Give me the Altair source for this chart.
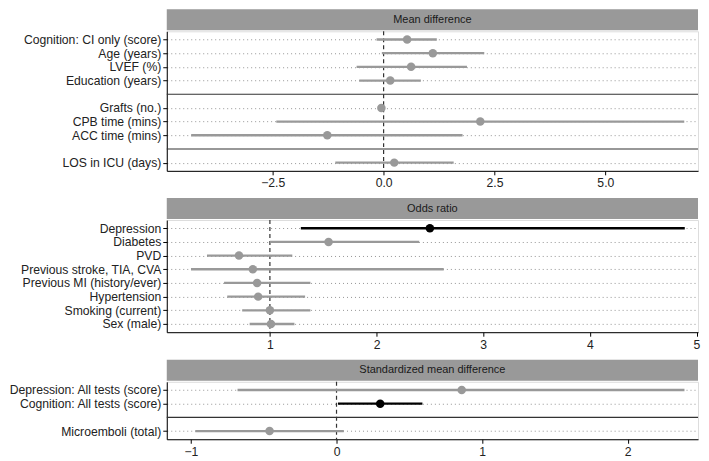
import json
import altair as alt
import pandas as pd

FONT = "Liberation Sans, Arial, Helvetica, sans-serif"
GRAY = "#999999"
STEP = 13.7
W = 532

# ---- Panel 1: Mean difference ----
title1 = "Mean difference"
labels1 = ["Cognition: CI only (score)", "Age (years)", "LVEF (%)", "Education (years)",
           "Grafts (no.)", "CPB time (mins)", "ACC time (mins)", "LOS in ICU (days)"]
pos1 = [1, 2, 3, 4, 6, 7, 8, 10]
est1 = [0.53, 1.11, 0.62, 0.15, -0.05, 2.18, -1.27, 0.24]
lo1 = [-0.16, -0.04, -0.61, -0.55, -0.13, -2.42, -4.34, -1.09]
hi1 = [1.20, 2.27, 1.88, 0.84, 0.03, 6.78, 1.78, 1.58]
sig1 = [False, False, False, False, False, False, False, False]
sep1 = [5, 9]
ticks1 = [-2.5, 0.0, 2.5, 5.0]

# ---- Panel 2: Odds ratio ----
title2 = "Odds ratio"
labels2 = ["Depression", "Diabetes", "PVD", "Previous stroke, TIA, CVA",
           "Previous MI (history/ever)", "Hypertension", "Smoking (current)", "Sex (male)"]
pos2 = [1, 2, 3, 4, 5, 6, 7, 8]
est2 = [2.50, 1.55, 0.71, 0.84, 0.88, 0.89, 1.00, 1.01]
lo2 = [1.29, 1.00, 0.41, 0.26, 0.57, 0.60, 0.74, 0.81]
hi2 = [4.89, 2.40, 1.21, 2.63, 1.38, 1.33, 1.38, 1.23]
sig2 = [True, False, False, False, False, False, False, False]
sep2 = []
ticks2 = [1, 2, 3, 4, 5]

# ---- Panel 3: Standardized mean difference ----
title3 = "Standardized mean difference"
labels3 = ["Depression: All tests (score)", "Cognition: All tests (score)", "Microemboli (total)"]
pos3 = [1, 2, 4]
est3 = [0.86, 0.30, -0.46]
lo3 = [-0.68, 0.01, -0.97]
hi3 = [2.39, 0.59, 0.05]
sig3 = [False, True, False]
sep3 = [3]
ticks3 = [-1, 0, 1, 2]


def panel(title, labels, pos, est, lo, hi, sig, seps, nmax, xdomain, xticks, xfmt, ref):
    df = pd.DataFrame(dict(label=labels, pos=pos, est=est, lo=lo, hi=hi,
                           sig=["yes" if s else "no" for s in sig]))
    H = (nmax + 0.2) * STEP
    arr = [""] * (nmax + 1)
    for l, p in zip(labels, pos):
        arr[p] = l
    label_expr = "[" + ",".join(json.dumps(s) for s in arr) + "][datum.value]"
    yscale = alt.Scale(domain=[0.4, nmax + 0.6], reverse=True, nice=False, zero=False)
    xscale = alt.Scale(domain=xdomain, nice=False, zero=False)
    yaxis = alt.Axis(values=pos, labelExpr=label_expr, grid=True, gridDash=[1, 3],
                     gridColor="#8a8a8a", gridWidth=0.9, domainColor="black", domainWidth=1,
                     tickColor="black", tickSize=4, labelFontSize=12.2, labelColor="#222222",
                     labelFont=FONT, labelPadding=2, minExtent=158, maxExtent=158, title=None)
    xaxis = alt.Axis(values=xticks, format=xfmt, grid=False, domainColor="black", domainWidth=1,
                     tickColor="black", tickSize=4, labelFontSize=12.2, labelColor="#222222",
                     labelFont=FONT, labelPadding=2, title=None)
    color = alt.Color("sig:N", scale=alt.Scale(domain=["no", "yes"], range=[GRAY, "black"]),
                      legend=None)

    tdf = pd.DataFrame({"t": [title]})
    strip = alt.Chart(tdf).mark_rect(color=GRAY).encode(
        x=alt.value(0), x2=alt.value(W), y=alt.value(-22), y2=alt.value(-1))
    stext = alt.Chart(tdf).mark_text(fontSize=11, color="#1a1a1a", font=FONT,
                                     baseline="middle", align="center").encode(
        x=alt.value(W / 2), y=alt.value(-11.5), text="t:N")

    layers = [strip, stext]
    if seps:
        sdf = pd.DataFrame({"sep": seps})
        layers.append(alt.Chart(sdf).mark_rule(color="#333333", strokeWidth=1.1).encode(
            y=alt.Y("sep:Q", scale=yscale, axis=yaxis)))
    rdf = pd.DataFrame({"ref": [ref]})
    layers.append(alt.Chart(rdf).mark_rule(color="#333333", strokeWidth=1.2,
                                           strokeDash=[4, 3]).encode(
        x=alt.X("ref:Q", scale=xscale, axis=xaxis)))
    base = alt.Chart(df)
    layers.append(base.mark_rule(strokeWidth=2.3).encode(
        x=alt.X("lo:Q", scale=xscale, axis=xaxis), x2="hi:Q",
        y=alt.Y("pos:Q", scale=yscale, axis=yaxis), color=color))
    layers.append(base.mark_point(filled=True, size=72, opacity=1).encode(
        x=alt.X("est:Q", scale=xscale, axis=xaxis),
        y=alt.Y("pos:Q", scale=yscale, axis=yaxis), color=color))
    return alt.layer(*layers).properties(width=W, height=H)


p1 = panel(title1, labels1, pos1, est1, lo1, hi1, sig1, sep1, 10,
           [-4.89, 7.09], ticks1, ".1f", 0)
p2 = panel(title2, labels2, pos2, est2, lo2, hi2, sig2, sep2, 8,
           [0.033, 5.014], ticks2, "d", 1)
p3 = panel(title3, labels3, pos3, est3, lo3, hi3, sig3, sep3, 4,
           [-1.166, 2.483], ticks3, "d", 0)

chart = alt.vconcat(p1, p2, p3, spacing=7).properties(padding=0).configure_view(
    stroke=None).configure(font=FONT, background="white")

chart.save("out.html", embed_options={"renderer": "svg", "actions": False})
